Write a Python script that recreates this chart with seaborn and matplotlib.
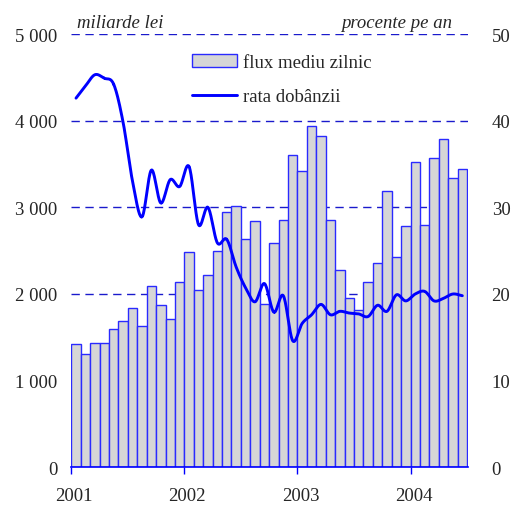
import numpy as np
import pandas as pd
import seaborn as sns
import matplotlib.pyplot as plt
import matplotlib.transforms as mtransforms
from matplotlib.lines import Line2D
from matplotlib.patches import Patch

# flux mediu zilnic (miliarde lei), ian 2001 - iun 2004
flux = [1420, 1305, 1440, 1440, 1597, 1686, 1836, 1635, 2090, 1878, 1712, 2140,
        2486, 2044, 2221, 2494, 2944, 3014, 2633, 2848, 1882, 2587, 2852, 3603,
        3421, 3933, 3818, 2852, 2275, 1951, 1816, 2136, 2355, 3183, 2425, 2786,
        3525, 2794, 3568, 3791, 3337, 3441]

# rata dobanzii (% pe an)
rata = [42.6, 44.0, 45.3, 44.9, 44.2, 39.8, 33.0, 28.9, 34.3, 30.5, 33.2, 32.4,
        34.7, 28.0, 30.0, 25.9, 26.3, 23.1, 20.7, 19.1, 21.2, 17.9, 19.8, 14.6,
        16.6, 17.6, 18.8, 17.6, 18.0, 17.8, 17.7, 17.4, 18.7, 18.0, 19.9, 19.2,
        20.0, 20.3, 19.2, 19.5, 20.0, 19.8]

years = ['2001', '2002', '2003', '2004']
left_ticks = ['0', '1 000', '2 000', '3 000', '4 000', '5 000']
right_ticks = ['0', '10', '20', '30', '40', '50']

blue = '#0000ff'

sns.set_style('white')
plt.rcParams['font.family'] = ['Liberation Serif', 'DejaVu Serif']
plt.rcParams['font.size'] = 13.5

df = pd.DataFrame({'luna': range(len(flux)), 'flux': flux})

fig = plt.figure(figsize=(5.14, 5.06), dpi=100)
ax = fig.add_axes([0.1387, 0.0745, 0.9105 - 0.1387, 0.9308 - 0.0745])

sns.barplot(data=df, x='luna', y='flux', ax=ax, width=1.0, color='#d6d6d6',
            edgecolor='#2a2aff', linewidth=1.0, saturation=1, errorbar=None)

ax.set_ylim(0, 5000)
ax.set_xlim(-0.5, 41.6)
ax.set_axisbelow(True)
ax.yaxis.grid(True, color='#1a1acc', linestyle=(0, (6, 4)), linewidth=1.0)
ax.xaxis.grid(False)
ax.set_yticks(range(0, 5001, 1000))
ax.set_yticklabels(left_ticks)
ax.set_xticks([-0.5, 11.5, 23.5, 35.5])
ax.set_xticklabels(years)
ax.set_xlabel('')
ax.set_ylabel('')
for s in ['left', 'right', 'top']:
    ax.spines[s].set_visible(False)
ax.spines['bottom'].set_color(blue)
ax.spines['bottom'].set_linewidth(1.2)
ax.tick_params(axis='x', length=5, width=1, color=blue, pad=9.5, direction='out', bottom=True)
ax.tick_params(axis='y', length=0, pad=10)
shift = mtransforms.ScaledTranslation(3 / 100, 0, fig.dpi_scale_trans)
for lbl in ax.get_xticklabels():
    lbl.set_transform(lbl.get_transform() + shift)

# linie netezita (Catmull-Rom) prin valorile lunare
ax2 = ax.twinx()
x = np.arange(len(rata), dtype=float)
y = np.array(rata)
xp = np.concatenate([[2 * x[0] - x[1]], x, [2 * x[-1] - x[-2]]])
yp = np.concatenate([[2 * y[0] - y[1]], y, [2 * y[-1] - y[-2]]])
xs, ys = [], []
t = np.linspace(0, 1, 20)
for i in range(1, len(xp) - 2):
    p0, p1, p2, p3 = yp[i - 1], yp[i], yp[i + 1], yp[i + 2]
    ys.append(0.5 * ((2 * p1) + (-p0 + p2) * t + (2 * p0 - 5 * p1 + 4 * p2 - p3) * t ** 2
                     + (-p0 + 3 * p1 - 3 * p2 + p3) * t ** 3))
    xs.append(xp[i] + t * (xp[i + 1] - xp[i]))
ax2.plot(np.concatenate(xs), np.concatenate(ys), color=blue, linewidth=2.1,
         solid_capstyle='round')
ax2.set_ylim(0, 50)
ax2.set_yticks(range(0, 51, 10))
ax2.set_yticklabels(right_ticks)
ax2.tick_params(axis='y', length=0, pad=17)
for s in ax2.spines.values():
    s.set_visible(False)
ax2.grid(False)

handles = [Patch(facecolor='#d6d6d6', edgecolor='#2a2aff', linewidth=1.0),
           Line2D([], [], color=blue, linewidth=2.1)]
fig.legend(handles, ['flux mediu zilnic', 'rata dobânzii'], loc='upper left',
           bbox_to_anchor=(192 / 514, 1 - 55 / 506), frameon=False, borderpad=0,
           borderaxespad=0, handlelength=2.4, handletextpad=0.3, labelspacing=0.92)

fig.text(77 / 514, 1 - 23 / 506, 'miliarde lei', style='italic', ha='left', va='center')
fig.text(452 / 514, 1 - 23 / 506, 'procente pe an', style='italic', ha='right', va='center')

fig.savefig('out.png', dpi=100)
